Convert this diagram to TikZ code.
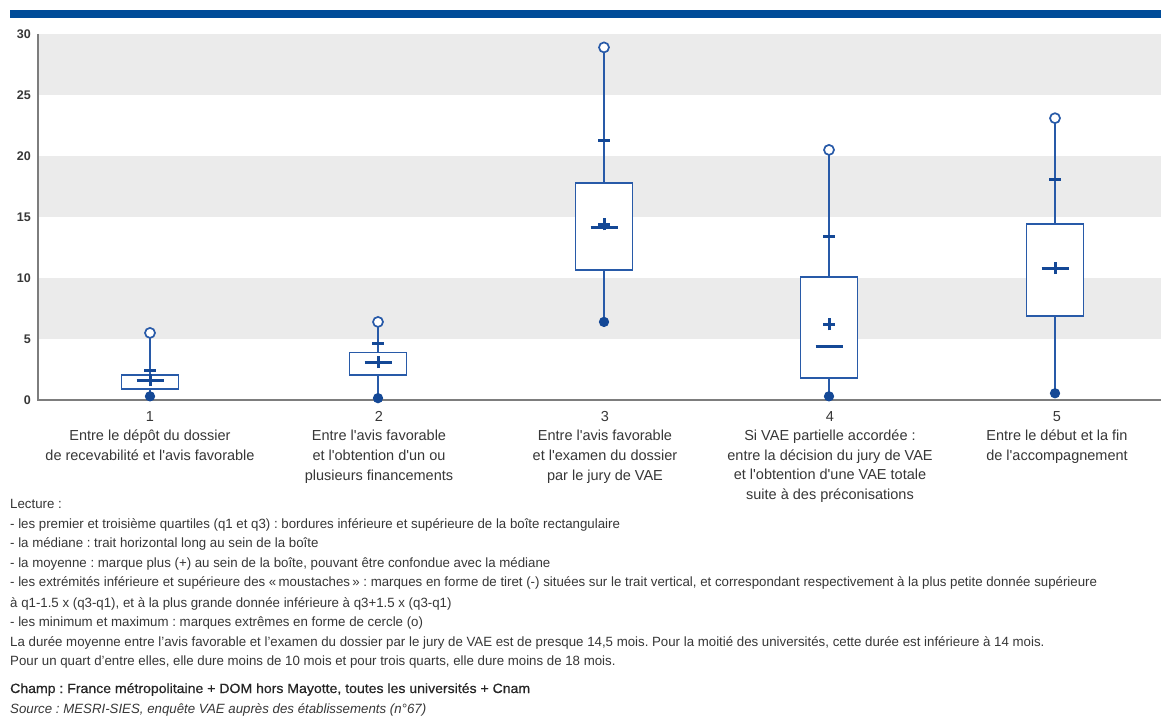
\documentclass[tikz,border=0pt]{standalone}
\usepackage{fontspec}
\setmainfont{Liberation Sans}[Ligatures=TeXOff]
\newfontfamily\notefont{Liberation Sans}[FakeStretch=0.99]
\newfontfamily\champfont{Liberation Sans}[FakeStretch=1.05,FakeBold=0.5]
\usetikzlibrary{scopes}
\definecolor{barblue}{RGB}{0,76,153}
\definecolor{boxblue}{RGB}{40,90,168}
\definecolor{markblue}{RGB}{20,72,150}
\definecolor{bandgray}{RGB}{235,235,235}
\definecolor{axisgray}{RGB}{125,125,125}
\definecolor{txtgray}{RGB}{55,55,55}
\frenchspacing

\begin{document}
\begin{tikzpicture}[x=1pt,y=1pt,
    band/.style={fill=bandgray},
    axisline/.style={draw=axisgray,line width=2pt},
    ticklab/.style={anchor=east,inner sep=0pt,text=txtgray,font=\fontsize{12.5}{14}\selectfont\bfseries},
    whisker/.style={draw=boxblue,line width=1.5pt},
    boxbody/.style={draw=boxblue,fill=white,line width=1.7pt},
    median/.style={draw=markblue,line width=3pt},
    endmark/.style={draw=markblue,line width=3pt},
    meanplus/.style={draw=markblue,line width=3pt},
    maxcircle/.style={draw=boxblue,fill=white,line width=1.7pt},
    mincircle/.style={draw=markblue,fill=markblue,line width=1.2pt},
    catlab/.style={anchor=north,align=center,inner sep=0pt,text=txtgray,
        font=\fontsize{14.5}{19.6}\selectfont},
    note/.style={anchor=base west,inner sep=0pt,text=txtgray,
        font=\notefont\fontsize{13.4}{16}\selectfont},
    ]
\def\vscale{12.2pt} % one month on the vertical axis
\def\halfbox{28.5}  % half width of a box

\useasboundingbox (0,0) rectangle (1161,720);
\fill[white] (0,0) rectangle (1161,720);

% Blue rule on top
\fill[barblue] (10,702) rectangle (1161,710);

%% Plot area, in months
\begin{scope}[shift={(0,320)},y=\vscale]
    % Grey bands
    \foreach \b in {5,15,25}
        \fill[band] (39,\b) rectangle (1161,\b+5);

    % Axes and tick labels
    \draw[axisline] (38,30) -- (38,0) -- (1161,0);
    \foreach \t in {0,5,...,30}
        \node[ticklab] (tick\t) at (31,\t) {\t};

    % Boxes: centre / min / q1 / median / mean / q3 / upper whisker / max
    \foreach \cx/\lo/\qa/\md/\mn/\qb/\hi/\mx in {
        150/0.3/0.9/1.6/1.6/2.05/2.45/5.5,
        378/0.15/2.05/3.1/3.1/3.9/4.6/6.4,
        604/6.4/10.65/14.15/14.4/17.8/21.3/28.9,
        829/0.3/1.8/4.4/6.2/10.1/13.4/20.5,
        1055/0.55/6.9/10.8/10.8/14.4/18.1/23.1}
    {
        \draw[whisker] (\cx,\lo) -- (\cx,\mx);
        \draw[boxbody] (\cx-\halfbox,\qa) rectangle (\cx+\halfbox,\qb);
        \draw[median] (\cx-13.5,\md) -- (\cx+13.5,\md);
        \draw[meanplus] (\cx-6,\mn) -- (\cx+6,\mn)
            (\cx,\mn) ++(0,-6pt) -- ++(0,12pt);
        \draw[endmark] (\cx-6,\hi) -- (\cx+6,\hi);
        \draw[maxcircle] (\cx,\mx) circle (5pt);
        \draw[mincircle] (\cx,\lo) circle (4.5pt);
    }
\end{scope}

% Category labels
\node[catlab] (cat1) at (150,309) {1\\Entre le dépôt du dossier\\de recevabilité et l'avis favorable};
\node[catlab] (cat2) at (379,309) {2\\Entre l'avis favorable\\et l'obtention d'un ou\\plusieurs financements};
\node[catlab] (cat3) at (605,309) {3\\Entre l'avis favorable\\et l'examen du dossier\\par le jury de VAE};
\node[catlab] (cat4) at (830,309) {4\\Si VAE partielle accordée :\\entre la décision du jury de VAE\\et l'obtention d'une VAE totale\\suite à des préconisations};
\node[catlab] (cat5) at (1057,309) {5\\Entre le début et la fin\\de l'accompagnement};

% Reading notes
\foreach \ny/\txt [count=\n] in {
    211/{Lecture :},
    191/{- les premier et troisième quartiles (q1 et q3) : bordures inférieure et supérieure de la boîte rectangulaire},
    172/{- la médiane : trait horizontal long au sein de la boîte},
    152/{- la moyenne : marque plus (+) au sein de la boîte, pouvant être confondue avec la médiane},
    133/{- les extrémités inférieure et supérieure des «\,moustaches\,» : marques en forme de tiret (-) situées sur le trait vertical, et correspondant respectivement à la plus petite donnée supérieure},
    113/{à q1-1.5 x (q3-q1), et à la plus grande donnée inférieure à q3+1.5 x (q3-q1)},
    93/{- les minimum et maximum : marques extrêmes en forme de cercle (o)},
    74/{La durée moyenne entre l’avis favorable et l’examen du dossier par le jury de VAE est de presque 14,5 mois. Pour la moitié des universités, cette durée est inférieure à 14 mois.},
    55/{Pour un quart d’entre elles, elle dure moins de 10 mois et pour trois quarts, elle dure moins de 18 mois.}}
    \node[note] (note\n) at (10,\ny) {\txt};

\node[note,text=black!85,font=\champfont\fontsize{13.4}{16}\selectfont] (champ) at (10,27) {Champ : France métropolitaine + DOM hors Mayotte, toutes les universités + Cnam};
\node[note] (source) at (10,7) {\itshape Source : MESRI-SIES, enquête VAE auprès des établissements (n°67)};
\end{tikzpicture}
\end{document}
